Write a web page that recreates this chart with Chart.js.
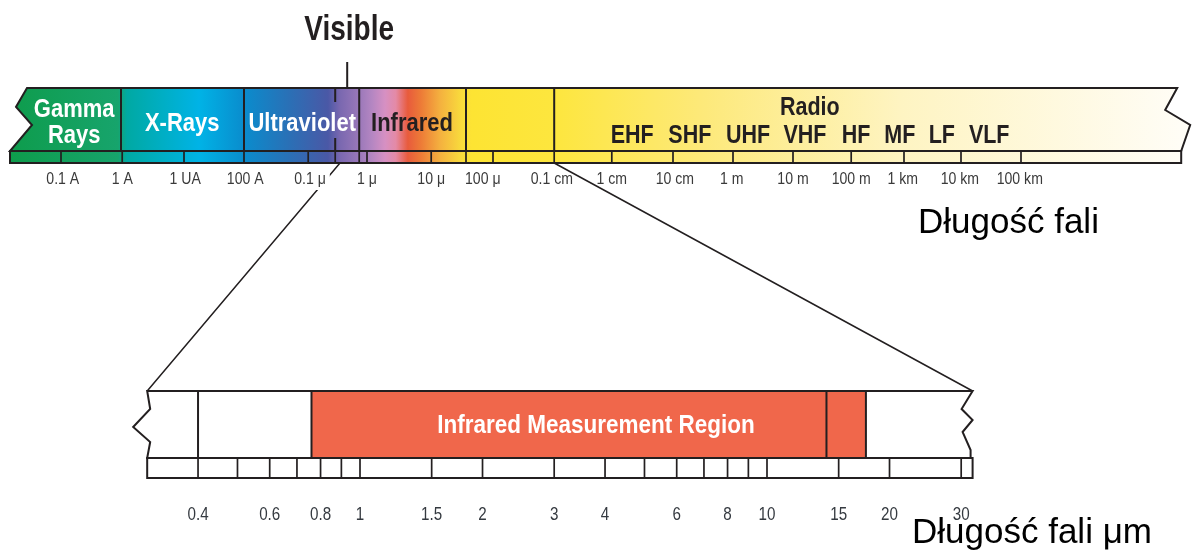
<!DOCTYPE html>
<html>
<head>
<meta charset="utf-8">
<script src="https://cdn.jsdelivr.net/npm/chart.js@4/dist/chart.umd.min.js"></script>
<style>
  html, body { margin: 0; background: #fff; }
  #wrap { width: 1193px; height: 555px; position: relative; }
</style>
</head>
<body>
<div id="wrap"><canvas id="c"></canvas></div>
<script>
// ---- top spectrum: x = log10(wavelength / m) ----
const bandEdges     = [-11.85, -10, -7.95, -6.43, -6.03, -4.25, -2.78, 7.67];
const bandNames     = ["Gamma|Rays", "X-Rays", "Ultraviolet", "Infrared", "Radio"];
const bandNameX     = [-10.78, -8.98, -6.98, -5.15, 1.48];
const bandNameDark  = [false, false, false, true, true];
const radioBands    = ["EHF", "SHF", "UHF", "VHF", "HF", "MF", "LF", "VLF"];
const radioBandX    = [-1.48, -0.52, 0.45, 1.4, 2.25, 2.98, 3.68, 4.47];
const topTickLabels = ["0.1 A", "1 A", "1 UA", "100 A", "0.1 μ", "1 μ", "10 μ", "100 μ", "0.1 cm",
                       "1 cm", "10 cm", "1 m", "10 m", "100 m", "1 km", "10 km", "100 km"];
const topTickLabelX = [-10.97, -9.98, -8.93, -7.93, -6.85, -5.9, -4.83, -3.97, -2.82,
                       -1.82, -0.77, 0.18, 1.2, 2.17, 3.03, 3.98, 4.98];
const topStripTicks = [-11, -9.98, -8.95, -7.95, -6.88, -6.43, -6.03, -5.9, -4.83, -4.25, -3.8,
                       -2.78, -1.82, -0.8, 0.2, 1.2, 2.17, 3.05, 4.0, 5.0];
const visibleRange  = [-6.43, -6.03];
const zoomFrom = -6.35, zoomTo = -2.78;   // part of the top scale blown up below

// ---- bottom (zoomed) scale: wavelength in μm ----
const irRange       = [0.3, 32];
const irRegion      = [0.76, 17.5];
const irDividers    = [0.4, 14];
const irLabelX      = 3.8;
const irTickLabels  = [0.4, 0.6, 0.8, 1, 1.5, 2, 3, 4, 6, 8, 10, 15, 20, 30];
const irStripTicks  = [0.4, 0.5, 0.6, 0.7, 0.8, 0.9, 1, 1.5, 2, 3, 4, 5, 6, 7, 8, 9, 10, 15, 20, 30];

// colour ramp of the spectrum (position on top scale, colour)
const rampPos = [-11.85, -10.05, -9.9, -8.7, -7.95, -7.2, -6.55, -6.35, -6.03, -5.82, -5.6, -5.42,
                 -5.22, -5.0, -4.68, -4.32, -4.15, -2.78, -0.3, 3.0, 7.67];
const rampCol = ["#0e9c4c", "#17a46c", "#00a9a3", "#00b3e6", "#0a8ccd", "#2a70b6", "#4a58a6", "#7a68b0",
                 "#9a78b9", "#b486c2", "#d690c3", "#e48aa6", "#e85b3c", "#ed7b37", "#f4b13f", "#f9dc3c",
                 "#fde433", "#fde63e", "#fde97a", "#fef4c2", "#fffdf6"];

const INK = "#231f20";
const SANS = '"Liberation Sans", Arial, sans-serif';

// rows (vertical layout)
const TOP_Y0 = 88, TOP_Y1 = 151, TOP_S1 = 163;
const BOT_Y0 = 391, BOT_Y1 = 458, BOT_S1 = 478;

// condensed text: squeeze a normal face horizontally
function text(ctx, s, x, y, squeeze) {
  ctx.save();
  ctx.translate(x, y);
  ctx.scale(squeeze, 1);
  ctx.fillText(s, 0, 0);
  ctx.restore();
}

const spectrumPlugin = {
  id: "spectrum",
  afterDraw(chart) {
    const ctx = chart.ctx;
    const sx = chart.scales.x, sx2 = chart.scales.x2, sy = chart.scales.y;
    const X = v => sx.getPixelForValue(v);
    const X2 = v => sx2.getPixelForValue(v);
    const Y = v => sy.getPixelForValue(v);
    const y0 = Y(TOP_Y0), y1 = Y(TOP_Y1), s1 = Y(TOP_S1);
    const xl = X(bandEdges[0]), xr = X(bandEdges[bandEdges.length - 1]);

    ctx.save();
    const g0 = X(rampPos[0]), gw = X(rampPos[rampPos.length - 1]) - g0;
    const grad = ctx.createLinearGradient(g0, 0, g0 + gw, 0);
    rampPos.forEach((p, i) => grad.addColorStop((X(p) - g0) / gw, rampCol[i]));

    // main band with broken ends
    ctx.beginPath();
    ctx.moveTo(xl + 17, y0);
    ctx.lineTo(xr - 4, y0);
    ctx.lineTo(xr - 16, y0 + 22);
    ctx.lineTo(xr + 9, y0 + 37);
    ctx.lineTo(xr, y1);
    ctx.lineTo(xl, y1);
    ctx.lineTo(xl + 22, y0 + 37);
    ctx.lineTo(xl + 6, y0 + 19);
    ctx.closePath();
    ctx.fillStyle = grad;
    ctx.fill();
    ctx.lineWidth = 2;
    ctx.strokeStyle = INK;
    ctx.stroke();

    // scale strip
    ctx.fillStyle = grad;
    ctx.fillRect(xl, y1, xr - xl, s1 - y1);
    ctx.strokeRect(xl, y1, xr - xl, s1 - y1);
    ctx.lineWidth = 1.7;
    ctx.beginPath();
    topStripTicks.forEach(t => { ctx.moveTo(X(t), y1); ctx.lineTo(X(t), s1); });
    ctx.stroke();

    // band dividers
    ctx.lineWidth = 2;
    ctx.beginPath();
    bandEdges.slice(1, -1).forEach(e => {
      const x = X(e);
      if (e === visibleRange[0]) {
        ctx.moveTo(x, y0); ctx.lineTo(x, y0 + 14);
        ctx.moveTo(x, y1 - 13); ctx.lineTo(x, y1);
      } else {
        ctx.moveTo(x, y0); ctx.lineTo(x, y1);
      }
    });
    const vx = X((visibleRange[0] + visibleRange[1]) / 2);
    ctx.moveTo(vx, Y(62)); ctx.lineTo(vx, y0);
    ctx.stroke();

    // zoom connector lines
    ctx.lineWidth = 1.5;
    ctx.beginPath();
    ctx.moveTo(X(zoomFrom), s1); ctx.lineTo(X2(irRange[0]), Y(BOT_Y0));
    ctx.moveTo(X(zoomTo), s1); ctx.lineTo(X2(irRange[1]), Y(BOT_Y0));
    ctx.stroke();

    // top tick labels (white gap where the left connector crosses a label)
    ctx.font = "16px " + SANS;
    ctx.textAlign = "center";
    ctx.textBaseline = "middle";
    topTickLabels.forEach((t, i) => {
      const x = X(topTickLabelX[i]), w = ctx.measureText(t).width * 0.88;
      if (Math.abs(topTickLabelX[i] - zoomFrom) < 1) {
        ctx.fillStyle = "#fff";
        ctx.fillRect(x - w / 2 - 2, Y(172), w + 6, 18);
      }
      ctx.fillStyle = "#3a3a3a";
      text(ctx, t, x, Y(180), 0.88);
    });

    // band names
    ctx.textBaseline = "alphabetic";
    ctx.font = "bold 25px " + SANS;
    bandNames.forEach((n, i) => {
      ctx.fillStyle = bandNameDark[i] ? INK : "#fff";
      const lines = n.split("|");
      const x = X(bandNameX[i]);
      if (lines.length === 2) {
        text(ctx, lines[0], x, Y(117), 0.88);
        text(ctx, lines[1], x, Y(143), 0.88);
      } else if (n === "Radio") {
        text(ctx, n, x, Y(115), 0.86);
      } else {
        text(ctx, n, x, Y(131), 0.88);
      }
    });
    ctx.fillStyle = INK;
    radioBands.forEach((n, i) => text(ctx, n, X(radioBandX[i]), Y(143), 0.86));
    ctx.font = "bold 35px " + SANS;
    text(ctx, "Visible", vx + 2, Y(40), 0.8);

    // axis title top
    ctx.font = "35px " + SANS;
    ctx.fillStyle = "#000";
    ctx.textAlign = "left";
    ctx.fillText("Długość fali", 918, Y(233));

    // ---- bottom zoomed band ----
    const b0 = Y(BOT_Y0), b1 = Y(BOT_Y1), bs = Y(BOT_S1);
    const bl = X2(irRange[0]), br = X2(irRange[1]);
    ctx.beginPath();
    ctx.moveTo(bl, b0);
    ctx.lineTo(br, b0);
    ctx.lineTo(br - 11, b0 + 18);
    ctx.lineTo(br, b0 + 29);
    ctx.lineTo(br - 10, b0 + 41);
    ctx.lineTo(br - 2, b0 + 59);
    ctx.lineTo(br - 2, b1);
    ctx.lineTo(bl, b1);
    ctx.lineTo(bl + 3, b0 + 51);
    ctx.lineTo(bl - 14, b0 + 36);
    ctx.lineTo(bl + 3, b0 + 18);
    ctx.closePath();
    ctx.fillStyle = "#fff";
    ctx.fill();
    ctx.fillStyle = "#f0674b";
    ctx.fillRect(X2(irRegion[0]), b0, X2(irRegion[1]) - X2(irRegion[0]), b1 - b0);
    ctx.lineWidth = 2;
    ctx.strokeStyle = INK;
    ctx.stroke();
    ctx.beginPath();
    [irRegion[0], irRegion[1], ...irDividers].forEach(v => { ctx.moveTo(X2(v), b0); ctx.lineTo(X2(v), b1); });
    ctx.stroke();

    // bottom strip
    ctx.strokeRect(bl, b1, br - bl, bs - b1);
    ctx.lineWidth = 1.7;
    ctx.beginPath();
    irStripTicks.forEach(v => { ctx.moveTo(X2(v), b1); ctx.lineTo(X2(v), bs); });
    ctx.stroke();

    ctx.textAlign = "center";
    ctx.fillStyle = "#fff";
    ctx.font = "bold 25px " + SANS;
    text(ctx, "Infrared Measurement Region", X2(irLabelX), Y(433), 0.9);

    ctx.font = "19px " + SANS;
    ctx.fillStyle = "#353a40";
    ctx.textBaseline = "middle";
    irTickLabels.forEach(v => text(ctx, String(v), X2(v), Y(515), 0.8));

    ctx.textBaseline = "alphabetic";
    ctx.textAlign = "left";
    ctx.fillStyle = "#000";
    ctx.font = "35px " + SANS;
    ctx.fillText("Długość fali μm", 912, Y(543));
    ctx.restore();
  }
};

new Chart(document.getElementById("c"), {
  type: "scatter",
  data: { datasets: [] },
  options: {
    responsive: true,
    maintainAspectRatio: false,
    animation: false,
    layout: { padding: 0 },
    events: [],
    plugins: { legend: { display: false }, tooltip: { enabled: false } },
    scales: {
      x:  { type: "linear", min: -12.0167, max: 7.8667, bounds: "data", display: false },
      x2: { type: "logarithmic", axis: "x", min: 0.13046, max: 111.35, bounds: "data", display: false },
      y:  { type: "linear", min: 0, max: 555, reverse: true, display: false }
    }
  },
  plugins: [spectrumPlugin]
});
</script>
</body>
</html>
